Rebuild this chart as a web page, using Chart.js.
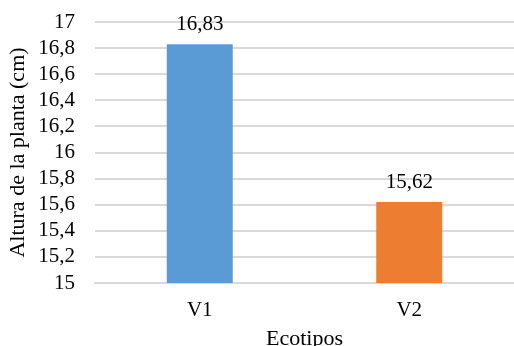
<!DOCTYPE html>
<html>
<head>
<meta charset="utf-8">
<script src="https://cdn.jsdelivr.net/npm/chart.js@4/dist/chart.umd.min.js"></script>
<style>
  html, body { margin: 0; padding: 0; background: #fff; overflow: hidden; }
  #wrap { width: 514px; height: 346px; position: relative; overflow: hidden; }
  canvas { display: block; }
</style>
</head>
<body>
<div id="wrap"><canvas id="c" width="514" height="346"></canvas></div>
<script>
const categories = ["V1", "V2"];
const values = [16.83, 15.62];
const valueLabels = ["16,83", "15,62"];
const barColors = ["#5B9BD5", "#ED7D31"];
const yMin = 15, yMax = 17, yStep = 0.2;
const yTitle = "Altura de la planta (cm)";
const xTitle = "Ecotipos";

const FONT = "'Liberation Serif', 'Times New Roman', serif";

const labelPlugin = {
  id: 'valueLabels',
  afterDatasetsDraw(chart) {
    const ctx = chart.ctx;
    const meta = chart.getDatasetMeta(0);
    ctx.save();
    ctx.font = "21px " + FONT;
    ctx.fillStyle = "#000";
    ctx.textAlign = "center";
    ctx.textBaseline = "middle";
    meta.data.forEach((bar, i) => {
      ctx.fillText(valueLabels[i], bar.x, bar.y - 20);
    });
    ctx.restore();
  }
};

new Chart(document.getElementById('c'), {
  type: 'bar',
  data: {
    labels: categories,
    datasets: [{
      data: values,
      backgroundColor: barColors,
      borderWidth: 0,
      categoryPercentage: 1,
      barPercentage: 0.315
    }]
  },
  options: {
    responsive: false,
    animation: false,
    devicePixelRatio: 1,
    layout: { padding: { top: 22, right: 0, left: 0, bottom: 0 } },
    plugins: { legend: { display: false }, tooltip: { enabled: false } },
    scales: {
      x: {
        grid: { display: false, drawTicks: false },
        border: { display: true, color: '#D9D9D9', width: 2 },
        ticks: { color: '#000', font: { family: FONT, size: 21, lineHeight: 2.57 }, padding: 0 },
        title: { display: true, text: xTitle, color: '#000', font: { family: FONT, size: 22, lineHeight: 1 }, padding: { top: 0, bottom: -4 } },
        afterFit(scale) { scale.height = 63; scale.paddingLeft = 0; scale.paddingRight = 0; }
      },
      y: {
        min: yMin, max: yMax,
        grid: { color: '#D9D9D9', lineWidth: 2, drawTicks: false },
        border: { display: false },
        ticks: {
          stepSize: yStep,
          autoSkip: false,
          color: '#000',
          font: { family: FONT, size: 21 },
          padding: 20,
          callback: (v) => (Math.round(v * 10) / 10).toString().replace('.', ',')
        },
        title: { display: true, text: yTitle, color: '#000', font: { family: FONT, size: 22, lineHeight: 1.2 }, padding: { top: 5, bottom: 0 } },
        afterFit(scale) { scale.width = 95; scale.paddingTop = 0; scale.paddingBottom = 0; }
      }
    }
  },
  plugins: [labelPlugin]
});
</script>
</body>
</html>
